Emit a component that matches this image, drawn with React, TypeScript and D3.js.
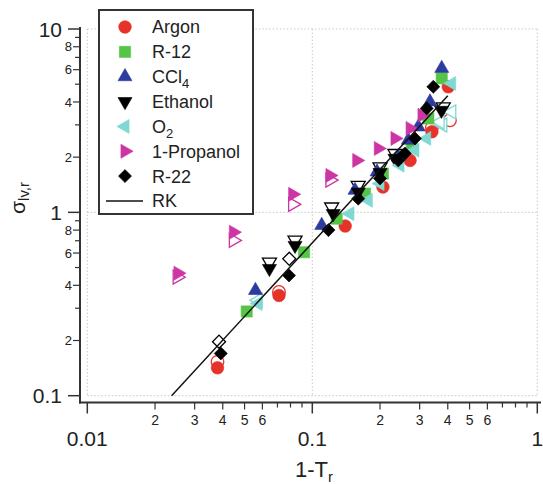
import React from "react";
import * as d3 from "d3";

// ---- data (x = 1-Tr, y = sigma_lv,r) ----
const argon = [[0.0379, 0.142], [0.0711, 0.352], [0.14, 0.842], [0.206, 1.375], [0.272, 1.92], [0.34, 2.75], [0.402, 4.84]];
const argonOpen = [[0.0379, 0.153], [0.0711, 0.368], [0.34, 2.9], [0.409, 3.18]];
const r12 = [[0.0511, 0.288], [0.0919, 0.606], [0.1283, 0.924], [0.1715, 1.265], [0.206, 1.627], [0.2767, 2.32], [0.328, 3.25], [0.376, 5.38]];
const ccl4 = [[0.0559, 0.375], [0.1101, 0.849], [0.1548, 1.319], [0.194, 1.661], [0.2411, 2.005], [0.267, 2.475], [0.296, 2.925], [0.3335, 4.005], [0.376, 6.1]];
const ethanol = [[0.0645, 0.494], [0.0838, 0.66], [0.1239, 0.984], [0.16, 1.29], [0.2, 1.65], [0.233, 1.97], [0.375, 3.6]];
const ethanolOpen = [[0.0645, 0.535], [0.0838, 0.705], [0.1219, 1.069], [0.16, 1.404], [0.2, 1.768], [0.233, 2.093], [0.382, 3.76]];
const o2 = [[0.0574, 0.318], [0.147, 0.984], [0.1774, 1.163], [0.2, 1.435], [0.2454, 1.806], [0.286, 2.18], [0.3225, 2.53], [0.4165, 5.05]];
const o2Open = [[0.0574, 0.332], [0.38, 2.99], [0.3695, 3.11], [0.4165, 3.53]];
const propanol = [[0.0253, 0.466], [0.0446, 0.78], [0.0818, 1.254], [0.1198, 1.59], [0.1576, 1.92], [0.1965, 2.23], [0.2331, 2.53], [0.272, 2.87], [0.3073, 3.39]];
const propanolOpen = [[0.0251, 0.443], [0.0446, 0.703], [0.0818, 1.106], [0.1198, 1.5]];
const r22 = [[0.0392, 0.17], [0.0788, 0.453], [0.118, 0.8], [0.16, 1.188], [0.2, 1.53], [0.2411, 1.92], [0.258, 2.093], [0.286, 2.53], [0.3225, 3.69], [0.345, 4.84]];
const r22Open = [[0.0385, 0.197], [0.079, 0.558]];
const rkX = [0.0237, 0.4];
const rkY = [0.1, 4.33];

const xDecades = [0.01, 0.1];
const yDecades = [0.1, 1];
const xMajorLabels = ["0.01", "0.1", "1"];
const yMajorLabels = ["0.1", "1", "10"];
const mantissas = [2, 3, 4, 5, 6, 7, 8, 9];
const xLabeledMantissas = [2, 3, 4, 5, 6];
const yLabeledMantissas = [2, 4, 6, 8];

const COLORS = {
  argon: "#e5332a",
  r12: "#55c447",
  ccl4: "#2b3b9f",
  ethanol: "#000000",
  o2: "#80d8d2",
  propanol: "#cc35a3",
  r22: "#000000",
};

const FONT = "'Liberation Sans', Arial, Helvetica, sans-serif";

type Shape = "circle" | "square" | "up" | "down" | "left" | "right" | "diamond";

function symbolPath(shape: Shape): { d: string; rot: number } {
  if (shape === "circle") return { d: d3.symbol().type(d3.symbolCircle).size(125)() as string, rot: 0 };
  if (shape === "square") return { d: d3.symbol().type(d3.symbolSquare).size(125)() as string, rot: 0 };
  if (shape === "diamond") return { d: d3.symbol().type(d3.symbolSquare).size(85)() as string, rot: 45 };
  const tri = d3.symbol().type(d3.symbolTriangle).size(85)() as string;
  const rot = shape === "up" ? 0 : shape === "down" ? 180 : shape === "right" ? 90 : -90;
  return { d: tri, rot };
}

function Marker({ x, y, shape, color, open }: { x: number; y: number; shape: Shape; color: string; open?: boolean }) {
  const { d, rot } = symbolPath(shape);
  return (
    <path
      d={d}
      transform={`translate(${x},${y}) rotate(${rot})`}
      fill={open ? "#ffffff" : color}
      stroke={color}
      strokeWidth={open ? 1.3 : 0.6}
    />
  );
}

export default function App() {
  const W = 543;
  const H = 484;
  const x = d3.scaleLog().domain([0.01, 1]).range([87.3, 537.3]);
  const y = d3.scaleLog().domain([0.1, 10]).range([395.7, 29]);
  const axisX = 80;
  const axisY = 402.5;

  const series: { data: number[][]; open?: number[][]; shape: Shape; color: string }[] = [
    { data: argon, open: argonOpen, shape: "circle", color: COLORS.argon },
    { data: r12, shape: "square", color: COLORS.r12 },
    { data: ccl4, shape: "up", color: COLORS.ccl4 },
    { data: ethanol, open: ethanolOpen, shape: "down", color: COLORS.ethanol },
    { data: o2, open: o2Open, shape: "left", color: COLORS.o2 },
    { data: propanol, open: propanolOpen, shape: "right", color: COLORS.propanol },
    { data: r22, open: r22Open, shape: "diamond", color: COLORS.r22 },
  ];

  const legend: { label: React.ReactNode; shape?: Shape; color: string }[] = [
    { label: "Argon", shape: "circle", color: COLORS.argon },
    { label: "R-12", shape: "square", color: COLORS.r12 },
    { label: <>CCl<tspan fontSize={13} dy={5}>4</tspan></>, shape: "up", color: COLORS.ccl4 },
    { label: "Ethanol", shape: "down", color: COLORS.ethanol },
    { label: <>O<tspan fontSize={13} dy={5}>2</tspan></>, shape: "left", color: COLORS.o2 },
    { label: "1-Propanol", shape: "right", color: COLORS.propanol },
    { label: "R-22", shape: "diamond", color: COLORS.r22 },
    { label: "RK", color: "#000" },
  ];

  const xMinor = xDecades.flatMap((d) => mantissas.map((m) => ({ v: d * m, m })));
  const yMinor = yDecades.flatMap((d) => mantissas.map((m) => ({ v: d * m, m })));
  const xMajor = [0.01, 0.1, 1];
  const yMajor = [0.1, 1, 10];

  const rkLine = d3
    .line<number>()
    .x((_, i) => x(rkX[i]))
    .y((_, i) => y(rkY[i]));

  const gridStyle = { stroke: "#c8c8c8", strokeWidth: 1, strokeDasharray: "1.5,2" };

  return (
    <svg width={W} height={H} style={{ position: "absolute", left: 0, top: 0, background: "#fff" }} fontFamily={FONT}>
      <rect x={0} y={0} width={W} height={H} fill="#fff" />
      {/* grid */}
      {xMajor.map((v) => (
        <line key={"gx" + v} x1={x(v)} x2={x(v)} y1={y(10)} y2={y(0.1)} {...gridStyle} />
      ))}
      {yMajor.map((v) => (
        <line key={"gy" + v} x1={x(0.01)} x2={x(1)} y1={y(v)} y2={y(v)} {...gridStyle} />
      ))}

      {/* axes */}
      <line x1={axisX} x2={axisX} y1={27} y2={axisY + 1} stroke="#333" strokeWidth={2} />
      <line x1={axisX - 1} x2={541} y1={axisY} y2={axisY} stroke="#333" strokeWidth={2} />

      {/* y ticks */}
      {yMajor.map((v, i) => (
        <g key={"yM" + v}>
          <line x1={axisX - 12} x2={axisX} y1={y(v)} y2={y(v)} stroke="#333" strokeWidth={1.5} />
          <text x={62} y={y(v)} dy="0.36em" textAnchor="end" fontSize={21} fill="#222">
            {yMajorLabels[i]}
          </text>
        </g>
      ))}
      {yMinor.map(({ v, m }) => {
        const lab = yLabeledMantissas.includes(m);
        return (
          <g key={"ym" + v}>
            <line x1={axisX - (lab ? 7 : 5)} x2={axisX} y1={y(v)} y2={y(v)} stroke="#333" strokeWidth={1.2} />
            {lab && (
              <text x={axisX - 8} y={y(v)} dy="0.36em" textAnchor="end" fontSize={13} fill="#222">
                {String(m)}
              </text>
            )}
          </g>
        );
      })}

      {/* x ticks */}
      {xMajor.map((v, i) => (
        <g key={"xM" + v}>
          <line x1={x(v)} x2={x(v)} y1={axisY} y2={axisY + 11} stroke="#333" strokeWidth={1.5} />
          <text x={x(v)} y={446} textAnchor="middle" fontSize={21} fill="#222">
            {xMajorLabels[i]}
          </text>
        </g>
      ))}
      {xMinor.map(({ v, m }) => {
        const lab = xLabeledMantissas.includes(m);
        return (
          <g key={"xm" + v}>
            <line x1={x(v)} x2={x(v)} y1={axisY} y2={axisY + (lab ? 7 : 5)} stroke="#333" strokeWidth={1.2} />
            {lab && (
              <text x={x(v)} y={425} textAnchor="middle" fontSize={14} fill="#222">
                {String(m)}
              </text>
            )}
          </g>
        );
      })}

      {/* axis titles */}
      <text x={314} y={477} textAnchor="middle" fontSize={22} fill="#222">
        1-T<tspan fontSize={15} dy={5}>r</tspan>
      </text>
      <text transform="translate(25,198) rotate(-90)" textAnchor="middle" fontSize={21} fill="#222">
        σ<tspan fontSize={15} dy={4}>lv,r</tspan>
      </text>

      {/* data: open markers first, filled on top */}
      {series.map((s, si) =>
        (s.open || []).map((p, i) => (
          <Marker key={`o${si}-${i}`} x={x(p[0])} y={y(p[1])} shape={s.shape} color={s.color} open />
        ))
      )}
      {series.map((s, si) =>
        s.data.map((p, i) => <Marker key={`f${si}-${i}`} x={x(p[0])} y={y(p[1])} shape={s.shape} color={s.color} />)
      )}

      {/* RK line */}
      <path d={rkLine(rkX) as string} fill="none" stroke="#111" strokeWidth={1.5} />

      {/* legend */}
      <rect x={99} y={10} width={154} height={204} fill="#fff" stroke="#333" strokeWidth={2} />
      {legend.map((l, i) => {
        const cy = 27 + i * 24.85;
        return (
          <g key={"lg" + i}>
            {l.shape ? (
              <Marker x={125} y={cy} shape={l.shape} color={l.color} />
            ) : (
              <line x1={106} x2={143} y1={cy} y2={cy} stroke="#111" strokeWidth={1.5} />
            )}
            <text x={152} y={cy} dy="0.36em" fontSize={18} fill="#222">
              {l.label}
            </text>
          </g>
        );
      })}
    </svg>
  );
}
